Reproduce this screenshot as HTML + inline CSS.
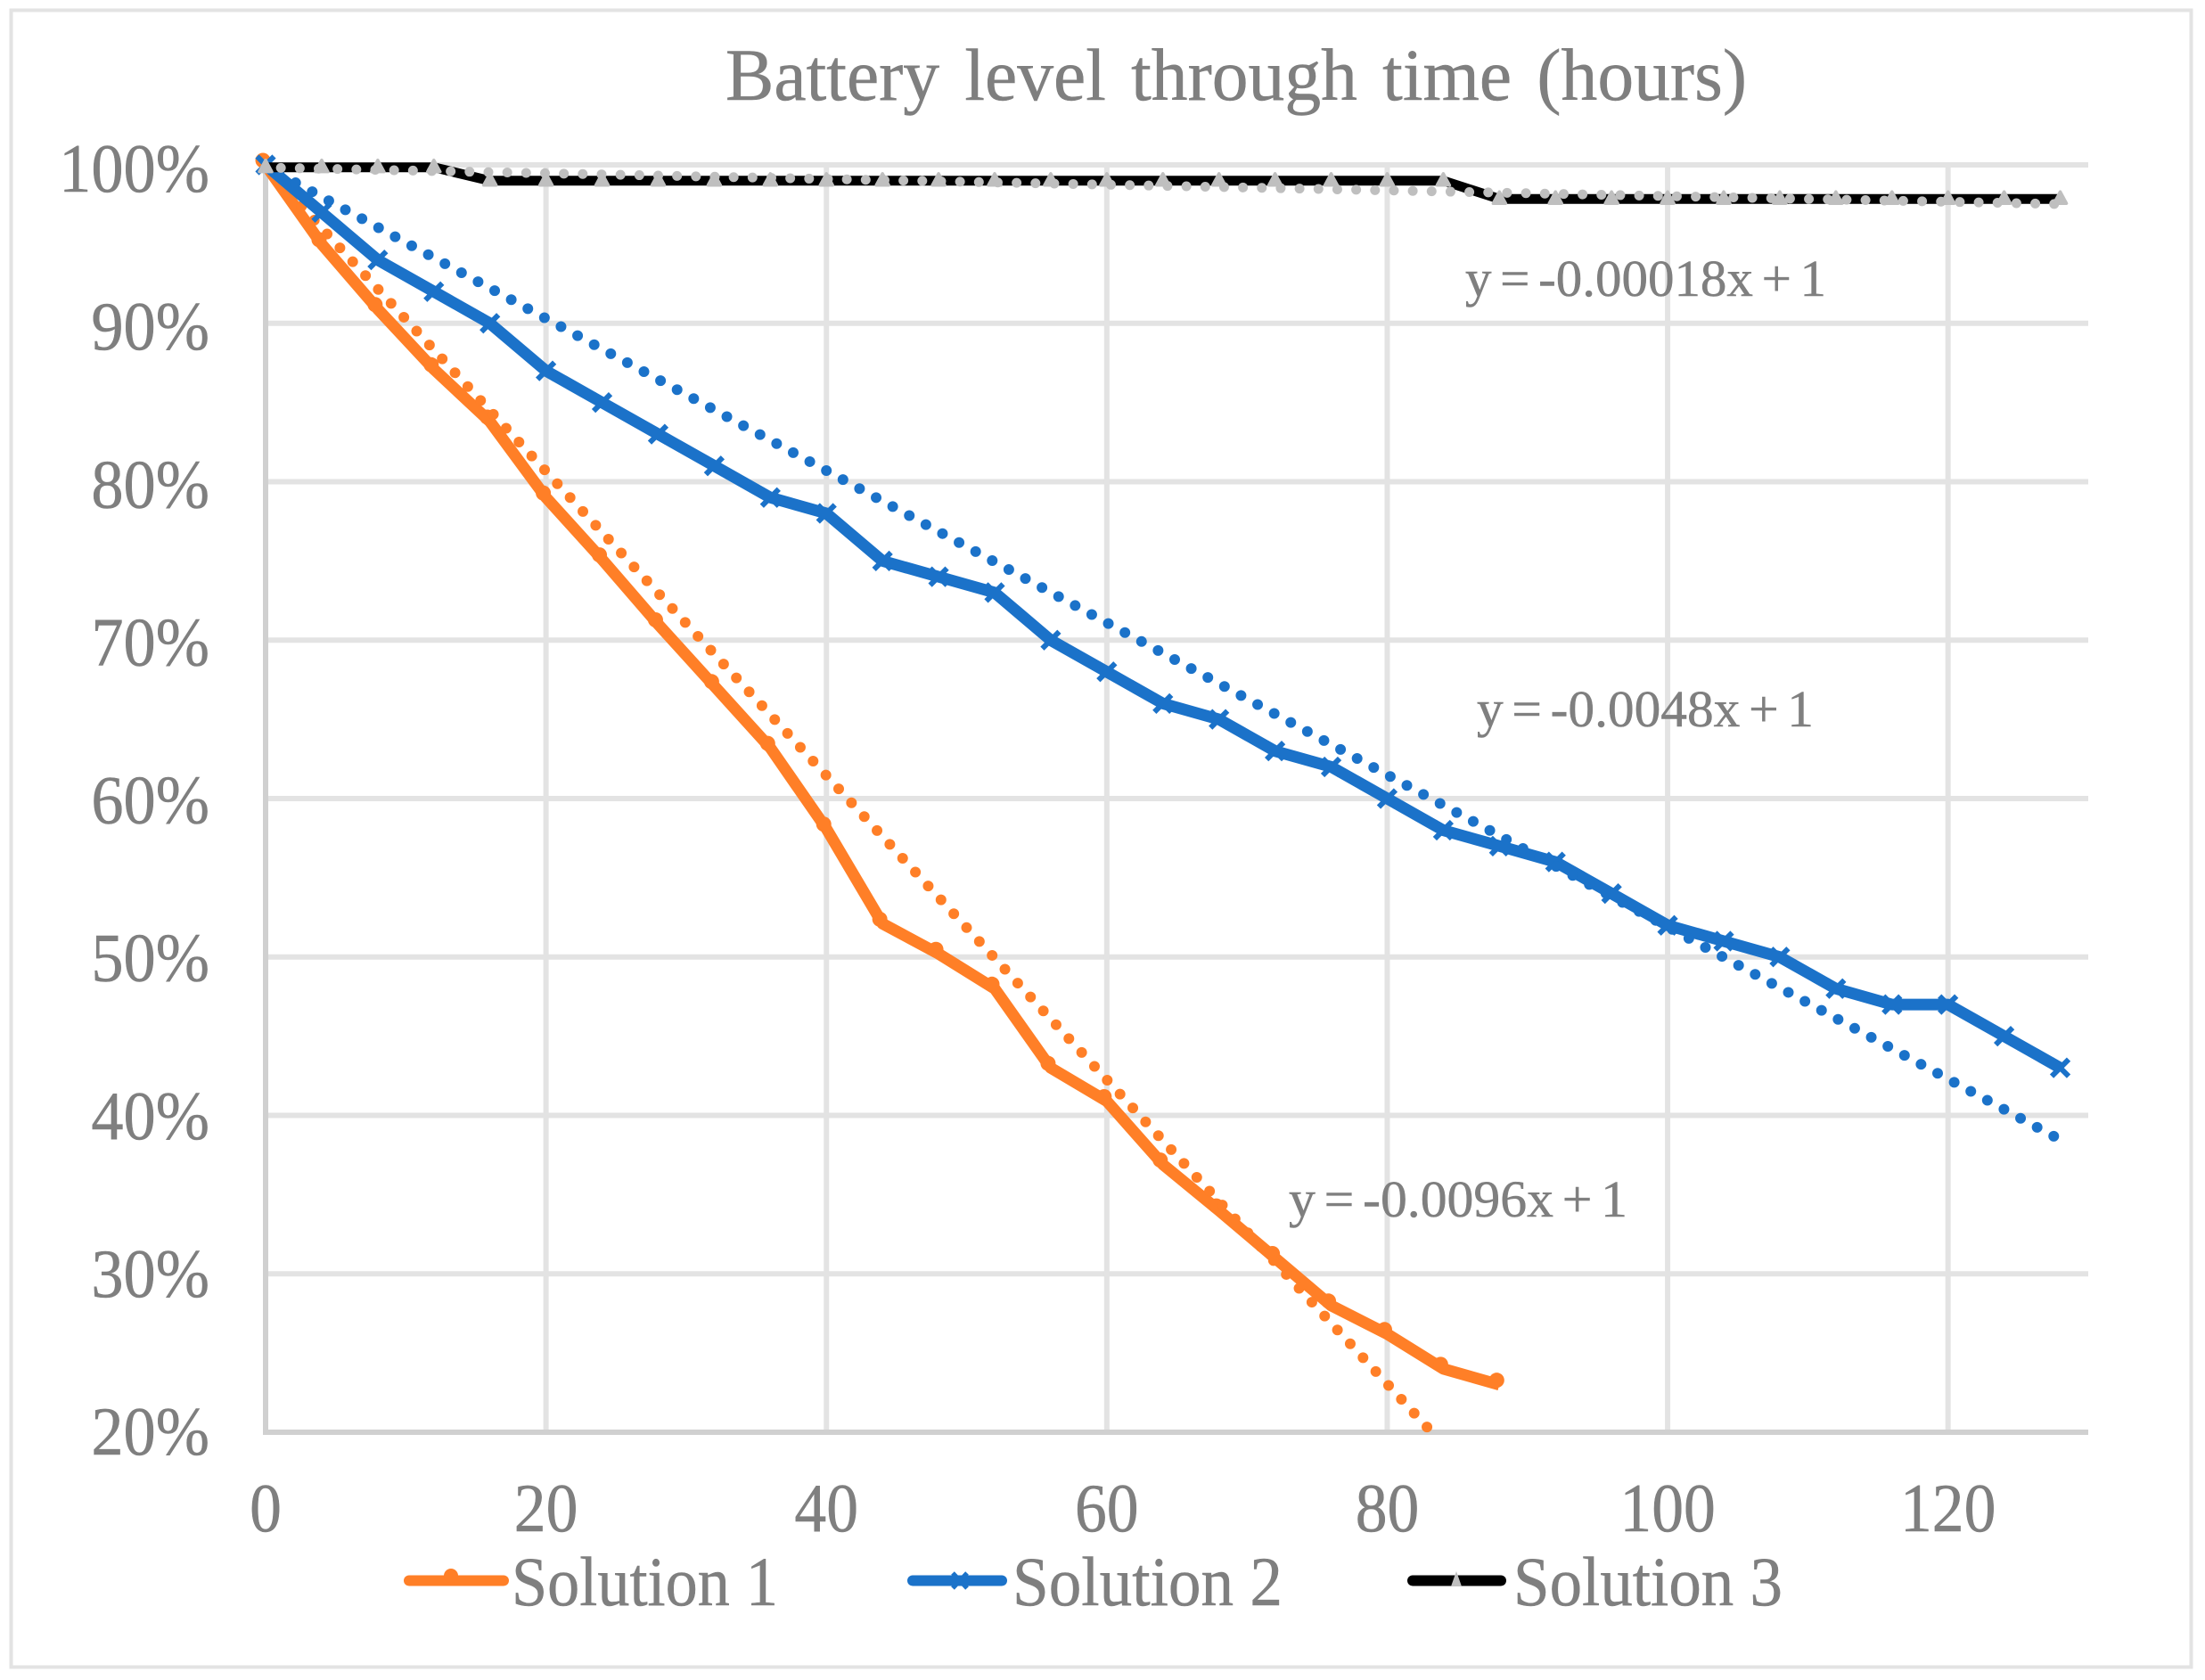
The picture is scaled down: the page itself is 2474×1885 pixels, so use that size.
<!DOCTYPE html>
<html lang="en">
<head>
<meta charset="utf-8">
<title>Battery level through time</title>
<style>
html,body{margin:0;padding:0;background:#fff;}
svg{display:block;}
text{font-family:"Liberation Serif",serif;fill:#7f7f7f;stroke:#7f7f7f;stroke-width:0.5px;}
</style>
</head>
<body>
<svg id="chart" xmlns="http://www.w3.org/2000/svg" width="2474" height="1885" viewBox="0 0 2474 1885">
<rect x="0" y="0" width="2474" height="1885" fill="#ffffff"/>
<rect x="12.5" y="11.5" width="2446" height="1859" fill="none" stroke="#e3e3e3" stroke-width="4"/>
<text x="814" y="112" font-size="83" word-spacing="8" textLength="1146" lengthAdjust="spacingAndGlyphs">Battery level through time (hours)</text>
<g id="grid"></g>
<g id="axes"></g>
<g id="plot"></g>
<text x="1644" y="332" font-size="58" word-spacing="-5" textLength="405" lengthAdjust="spacingAndGlyphs">y = -0.00018x + 1</text>
<text x="1657" y="815" font-size="58" word-spacing="-5" textLength="378" lengthAdjust="spacingAndGlyphs">y = -0.0048x + 1</text>
<text x="1446" y="1365" font-size="58" word-spacing="-5" textLength="380" lengthAdjust="spacingAndGlyphs">y = -0.0096x + 1</text>
<g>
  <g>
    <line x1="459" y1="1773.5" x2="565" y2="1773.5" stroke="#ff7f27" stroke-width="12" stroke-linecap="round"/>
    <ellipse cx="506" cy="1768" rx="8" ry="8" fill="#ff7f27"/>
    <text x="574" y="1801" font-size="78" textLength="299" lengthAdjust="spacingAndGlyphs">Solution 1</text>
  </g>
  <g>
    <line x1="1024" y1="1773.5" x2="1124" y2="1773.5" stroke="#1b72c9" stroke-width="12" stroke-linecap="round"/>
    <path d="M1069 1765L1085 1782M1085 1765L1069 1782" stroke="#1b72c9" stroke-width="5" fill="none"/>
    <text x="1136" y="1801" font-size="78" textLength="303" lengthAdjust="spacingAndGlyphs">Solution 2</text>
  </g>
  <g>
    <line x1="1585" y1="1773.5" x2="1684" y2="1773.5" stroke="#000000" stroke-width="12" stroke-linecap="round"/>
    <path d="M1634 1763L1628 1780L1640 1780Z" fill="#bfbfbf"/>
    <text x="1698" y="1801" font-size="78" textLength="302" lengthAdjust="spacingAndGlyphs">Solution 3</text>
  </g>
</g>
</svg>
<script>
const xTickValues = [0, 20, 40, 60, 80, 100, 120];
const yTickValues = [20, 30, 40, 50, 60, 70, 80, 90, 100];
const hours = [0,4,8,12,16,20,24,28,32,36,40,44,48,52,56,60,64,68,72,76,80,84,88,92,96,100,104,108,112,116,120,124,128];
const solution1 = [100,95,90.9,87.1,83.8,79,75.1,71,67.1,63.2,58.1,52.1,50.2,48,43,40.9,36.9,34,31,28,26.2,24,23];
const solution2 = [100,97,94,92,90,87,85,83,81,79,78,75,74,73,70,68,66,65,63,62,60,58,57,56,54,52,51,50,48,47,47,45,43];
const solution3 = [99.85,99.85,99.85,99.85,99,99,99,99,99,99,99,99,99,99,99,99,99,99,99,99,99,99,97.85,97.85,97.85,97.85,97.85,97.85,97.85,97.85,97.85,97.85,97.85];
const trendSlopes = [-0.96, -0.48, -0.018];
const trendEndHours = [83.3, 128, 128];
const trendStarts = [99.85, 99.9, 99.83];

const NS = 'http://www.w3.org/2000/svg';
const xMin = 0, xMax = 130, yMin = 20, yMax = 100;
const plotLeft = 298, plotRight = 2343, plotTop = 185, plotBottom = 1607;
const xScale = v => plotLeft + (v - xMin) / (xMax - xMin) * (plotRight - plotLeft);
const yScale = v => plotBottom - (v - yMin) / (yMax - yMin) * (plotBottom - plotTop);
const ORANGE = '#ff7f27', BLUE = '#1b72c9', BLACK = '#000000', GREY = '#bfbfbf';

function make(parent, tag, props) {
  const el = document.createElementNS(NS, tag);
  for (const k in props) el.setAttribute(k, props[k]);
  parent.appendChild(el);
  return el;
}
function pointsFor(values) {
  return values.map((v, i) => xScale(hours[i]).toFixed(1) + ',' + yScale(v).toFixed(1)).join(' ');
}

const grid = document.getElementById('grid');
const axes = document.getElementById('axes');
const plot = document.getElementById('plot');

yTickValues.forEach(t => {
  if (t === yMin) return;
  const line = make(grid, 'line', {x1: plotLeft, x2: plotRight, y1: yScale(t), y2: yScale(t), stroke: '#e3e3e3', 'stroke-width': 6});
  
  
});
xTickValues.forEach(t => {
  if (t === xMin) return;
  const line = make(grid, 'line', {x1: xScale(t), x2: xScale(t), y1: plotTop, y2: plotBottom, stroke: '#e3e3e3', 'stroke-width': 6});
  
  
});

const yAxisLine = make(axes, 'line', {x1: plotLeft, x2: plotLeft, y1: plotTop, y2: plotBottom + 3, stroke: '#d0d0d0', 'stroke-width': 6});


const xAxisLine = make(axes, 'line', {x1: plotLeft - 3, x2: plotRight, y1: plotBottom, y2: plotBottom, stroke: '#d0d0d0', 'stroke-width': 6});



yTickValues.forEach(t => {
  const base = yScale(t) + 25 + (t - yMin) * 0.0625;
  const label = make(axes, 'text', {transform: 'translate(235,' + base.toFixed(1) + ') scale(0.94,1)', 'text-anchor': 'end', 'font-size': 77});
  
  
  label.textContent = t + '%';
});
xTickValues.forEach(t => {
  const label = make(axes, 'text', {transform: 'translate(' + xScale(t).toFixed(1) + ',1718) scale(0.93,1)', 'text-anchor': 'middle', 'font-size': 77});
  
  
  label.textContent = t;
});

function drawTrend(index, color, width, name) {
  const end = trendEndHours[index];
  const start = trendStarts[index];
  const line = make(plot, 'line', {
    x1: xScale(0), y1: yScale(start),
    x2: xScale(end), y2: yScale(start + trendSlopes[index] * end),
    stroke: color, 'stroke-width': width, 'stroke-linecap': 'round',
    'stroke-dasharray': '0 21.17', 'stroke-dashoffset': 4, fill: 'none'
  });
  
  
}
function drawLine(values, color, width, name) {
  const line = make(plot, 'polyline', {points: pointsFor(values), fill: 'none', stroke: color, 'stroke-width': width, 'stroke-linejoin': 'round'});
  
  
}

/* Solution 1 */
drawLine(solution1, ORANGE, 13, 'line-solution-1');
solution1.forEach((v, i) => {
  const m = make(plot, 'ellipse', {cx: xScale(hours[i]) - 3, cy: yScale(v) - 5, rx: 8.5, ry: 8.5, fill: ORANGE});
  
  
});
drawTrend(0, ORANGE, 12, 'trendline-solution-1');

/* Solution 2 */
drawLine(solution2, BLUE, 13, 'line-solution-2');
solution2.forEach((v, i) => {
  const cx = xScale(hours[i]), cy = yScale(v);
  const m = make(plot, 'path', {
    d: 'M' + (cx - 9.5) + ' ' + (cy - 9.5) + 'L' + (cx + 9.5) + ' ' + (cy + 9.5) +
       'M' + (cx - 9.5) + ' ' + (cy + 9.5) + 'L' + (cx + 9.5) + ' ' + (cy - 9.5),
    stroke: BLUE, 'stroke-width': 6, fill: 'none'
  });
  
  
});
drawTrend(1, BLUE, 12, 'trendline-solution-2');

/* Solution 3 */
drawLine(solution3, BLACK, 11, 'line-solution-3');
drawTrend(2, GREY, 11, 'trendline-solution-3');
solution3.forEach((v, i) => {
  const cx = xScale(hours[i]), cy = yScale(v);
  const m = make(plot, 'path', {
    d: 'M' + cx + ' ' + (cy - 8) + 'L' + (cx + 7) + ' ' + (cy + 5) + 'L' + (cx - 7) + ' ' + (cy + 5) + 'Z',
    fill: GREY, stroke: GREY, 'stroke-width': 3.5, 'stroke-linejoin': 'round'
  });
  
  
});
</script>
</body>
</html>
